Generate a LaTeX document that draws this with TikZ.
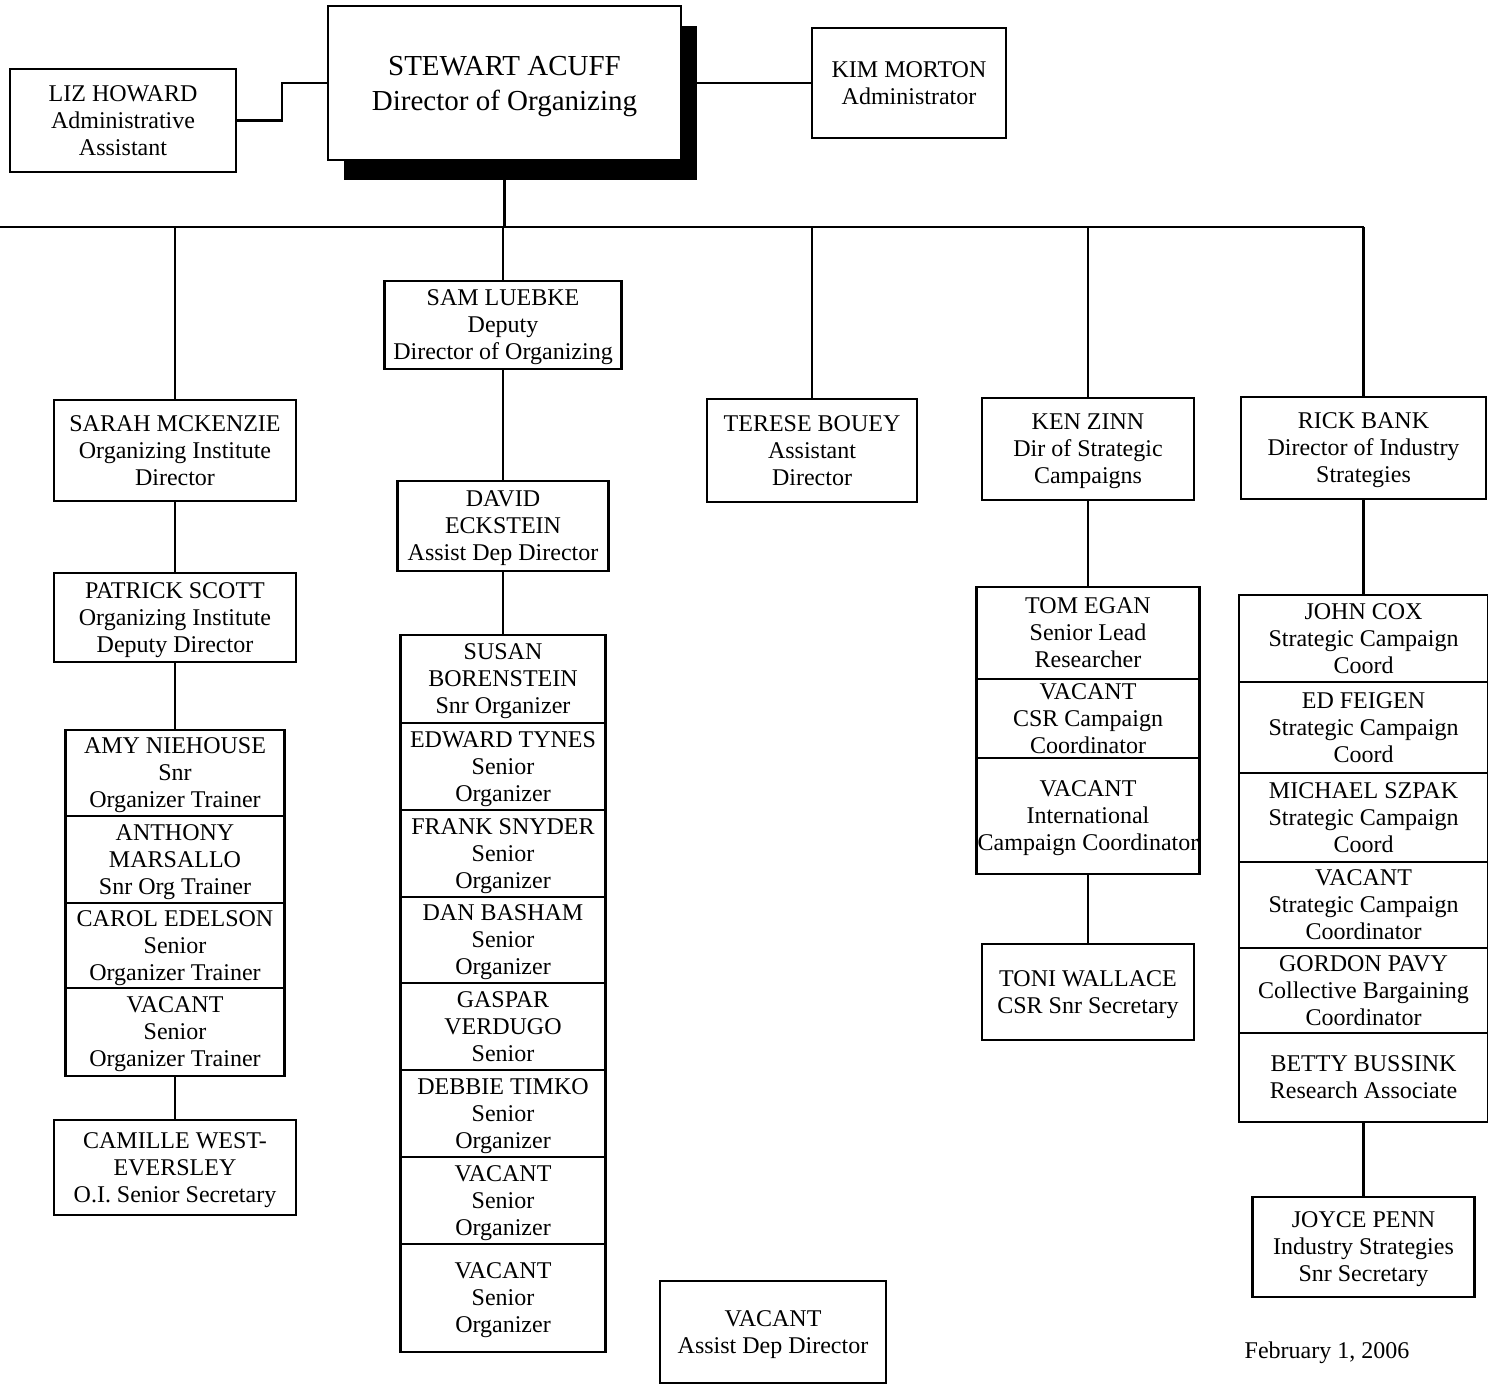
\documentclass[tikz,border=0pt]{standalone}
\usepackage{fontspec}
\setmainfont{Liberation Serif}
\usetikzlibrary{positioning, shadows}
\tikzset{
  post/.style={
    rectangle,
    draw=black, line width=1.4pt,
    fill=white,
    inner sep=0pt, outer sep=0pt,
    align=center,
    text depth=0pt,
    font=\fontsize{12}{13.5}\selectfont
  },
  chief/.style={
    post,
    font=\fontsize{14.5}{17.5}\selectfont,
    general shadow={fill=black, shadow xshift=8pt, shadow yshift=-10pt}
  },
  link/.style={
    draw=black,
    line width=1.3pt
  }
}

\begin{document}
\begin{tikzpicture}[x=0.5pt, y=-0.5pt]
\useasboundingbox (0,0) rectangle (1488,1384);
% Department of Organizing, staff chart

% nodes

%% top
\node[chief, minimum width=176.5pt, minimum height=77pt] (acuff) at (504.5,83)
  {STEWART ACUFF\\Director of Organizing};
\node[post, minimum width=113pt, minimum height=51.5pt] (liz) at (123,120.5)
  {LIZ HOWARD\\Administrative\\Assistant};
\node[post, minimum width=97pt, minimum height=55pt] (kim) at (909,83)
  {KIM MORTON\\Administrator};
\coordinate (busL) at (0,227);
\coordinate (busR) at (1364,227);

%% second row
\node[post, minimum width=121pt, minimum height=50.5pt] (sarah) at (175,450.5)
  {SARAH MCKENZIE\\Organizing Institute\\Director};
\node[post, minimum width=118.5pt, minimum height=44pt] (sam) at (503,325)
  {SAM LUEBKE\\Deputy\\Director of Organizing};
\node[post, minimum width=105pt, minimum height=51.5pt] (terese) at (812,450.5)
  {TERESE BOUEY\\Assistant\\Director};
\node[post, minimum width=106pt, minimum height=51pt] (zinn) at (1088,449)
  {KEN ZINN\\Dir of Strategic\\Campaigns};
\node[post, minimum width=122.5pt, minimum height=51pt] (bank) at (1363.5,448)
  {RICK BANK\\Director of Industry\\Strategies};

%% organizing institute
\node[post, minimum width=121pt, minimum height=44.5pt] (scott) at (175,617.5)
  {PATRICK SCOTT\\Organizing Institute\\Deputy Director};
\node[post, minimum width=109.5pt, minimum height=43pt] (amy) at (175,773)
  {AMY NIEHOUSE\\Snr\\Organizer Trainer};
\node[post, minimum width=109.5pt, minimum height=43.5pt, below=0pt of amy] (anthony)
  {ANTHONY\\MARSALLO\\Snr Org Trainer};
\node[post, minimum width=109.5pt, minimum height=42.5pt, below=0pt of anthony] (carol)
  {CAROL EDELSON\\Senior\\Organizer Trainer};
\node[post, minimum width=109.5pt, minimum height=44pt, below=0pt of carol] (vacantA)
  {VACANT\\Senior\\Organizer Trainer};
\node[post, minimum width=121pt, minimum height=47.5pt] (camille) at (175,1167.5)
  {CAMILLE WEST-\\EVERSLEY\\O.I. Senior Secretary};

%% deputy
\node[post, minimum width=105.5pt, minimum height=45pt] (eckstein) at (503,526)
  {DAVID\\ECKSTEIN\\Assist Dep Director};
\node[post, minimum width=102.5pt, minimum height=44pt] (susan) at (503,679)
  {SUSAN\\BORENSTEIN\\Snr Organizer};
\node[post, minimum width=102.5pt, minimum height=43.5pt, below=0pt of susan] (tynes)
  {EDWARD TYNES\\Senior\\Organizer};
\node[post, minimum width=102.5pt, minimum height=43.5pt, below=0pt of tynes] (snyder)
  {FRANK SNYDER\\Senior\\Organizer};
\node[post, minimum width=102.5pt, minimum height=43pt, below=0pt of snyder] (basham)
  {DAN BASHAM\\Senior\\Organizer};
\node[post, minimum width=102.5pt, minimum height=43.5pt, below=0pt of basham] (verdugo)
  {GASPAR\\VERDUGO\\Senior};
\node[post, minimum width=102.5pt, minimum height=43.5pt, below=0pt of verdugo] (timko)
  {DEBBIE TIMKO\\Senior\\Organizer};
\node[post, minimum width=102.5pt, minimum height=43.5pt, below=0pt of timko] (vacantB)
  {VACANT\\Senior\\Organizer};
\node[post, minimum width=102.5pt, minimum height=54pt, below=0pt of vacantB] (vacantC)
  {VACANT\\Senior\\Organizer};
\node[post, minimum width=113pt, minimum height=51pt] (vacantD) at (773,1332)
  {VACANT\\Assist Dep Director};

%% strategic campaigns
\node[post, minimum width=111.5pt, minimum height=46pt] (egan) at (1088,633)
  {TOM EGAN\\Senior Lead\\Researcher};
\node[post, minimum width=111.5pt, minimum height=39.5pt, below=0pt of egan] (csr)
  {VACANT\\CSR Campaign\\Coordinator};
\node[post, minimum width=111.5pt, minimum height=58pt, below=0pt of csr] (intl)
  {VACANT\\International\\Campaign Coordinator};
\node[post, minimum width=106pt, minimum height=48pt] (wallace) at (1088,992)
  {TONI WALLACE\\CSR Snr Secretary};

%% industry strategies
\node[post, minimum width=124.5pt, minimum height=43.5pt] (cox) at (1363.5,638.5)
  {JOHN COX\\Strategic Campaign\\Coord};
\node[post, minimum width=124.5pt, minimum height=45.5pt, below=0pt of cox] (feigen)
  {ED FEIGEN\\Strategic Campaign\\Coord};
\node[post, minimum width=124.5pt, minimum height=44.5pt, below=0pt of feigen] (szpak)
  {MICHAEL SZPAK\\Strategic Campaign\\Coord};
\node[post, minimum width=124.5pt, minimum height=43pt, below=0pt of szpak] (vacantE)
  {VACANT\\Strategic Campaign\\Coordinator};
\node[post, minimum width=124.5pt, minimum height=42.5pt, below=0pt of vacantE] (pavy)
  {GORDON PAVY\\Collective Bargaining\\Coordinator};
\node[post, minimum width=124.5pt, minimum height=44.5pt, below=0pt of pavy] (bussink)
  {BETTY BUSSINK\\Research Associate};
\node[post, minimum width=111pt, minimum height=50pt] (penn) at (1363.5,1247)
  {JOYCE PENN\\Industry Strategies\\Snr Secretary};

\node[font=\fontsize{12}{13.5}\selectfont] (date) at (1327,1353) {February 1, 2006};

% edges

%% acuff
\draw[link] (liz.east) -- ++(46,0) |- (acuff.west);
\draw[link] (acuff.east) -- (kim.west);
\draw[link] (acuff.south) -- (acuff.south |- busL);
\draw[link] (busL) -- (busR);
\foreach \n in {sarah, sam, terese, zinn, bank}
  \draw[link] (\n.north |- busL) -- (\n.north);

%% columns
\draw[link] (sarah.south) -- (scott.north);
\draw[link] (scott.south) -- (amy.north);
\draw[link] (vacantA.south) -- (camille.north);
\draw[link] (sam.south) -- (eckstein.north);
\draw[link] (eckstein.south) -- (susan.north);
\draw[link] (zinn.south) -- (egan.north);
\draw[link] (intl.south) -- (wallace.north);
\draw[link] (bank.south) -- (cox.north);
\draw[link] (bussink.south) -- (penn.north);

\end{tikzpicture}
\end{document}
